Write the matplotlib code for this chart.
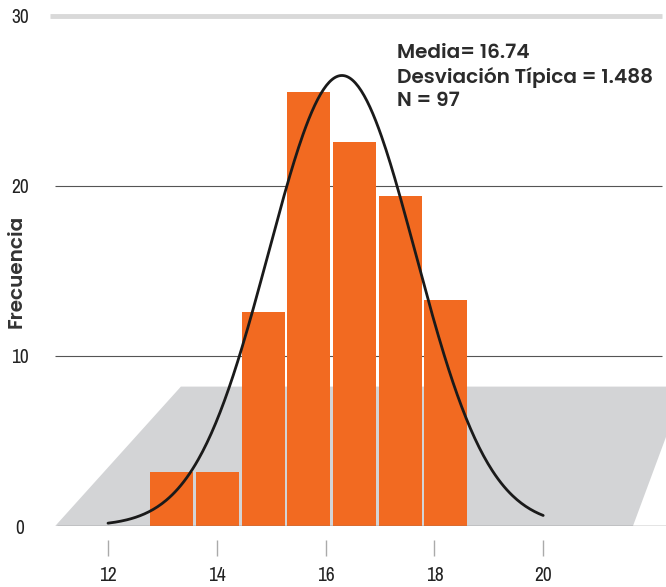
import numpy as np
import matplotlib
matplotlib.use("Agg")
from matplotlib import pyplot as plt
from matplotlib.patches import Polygon

# histogram of the sample
bin_centers = [13.17, 14.01, 14.85, 15.69, 16.53, 17.37, 18.21]
counts = [3.2, 3.2, 12.6, 25.5, 22.6, 19.4, 13.3]
bar_width = 0.79

# fitted normal curve as drawn over the bars
curve_mu = 16.3
curve_sigma = 1.35
curve_peak = 26.5
curve_range = (12.0, 20.0)

x_ticks = [12, 14, 16, 18, 20]
y_ticks = [0, 10, 20, 30]

stats_lines = ["Media= 16.74", "Desviación Típica = 1.488", "N = 97"]

orange = "#f26a21"
floor_grey = "#d3d4d6"
narrow = ["Archivo Narrow", "DejaVu Sans"]
heading = ["Poppins", "DejaVu Sans"]

fig = plt.figure(figsize=(6.66, 5.87), dpi=100)
ax = fig.add_axes([45 / 666, 61 / 587, 621 / 666, 518 / 587])
ax.set_xlim(10.842, 22.257)
ax.set_ylim(0, 30.47)

# perspective floor under the bars
floor = Polygon([(11.03, 0), (13.34, 8.2), (22.6, 8.2), (21.65, 0)],
                closed=True, facecolor=floor_grey, edgecolor="none", zorder=0)
ax.add_patch(floor)

# grid lines
ax.hlines([10, 20], 11.03, 22.18, color="#555555", lw=0.8, zorder=1)
ax.hlines(30, 10.93, 22.18, color="#d9d9d9", lw=3.5, zorder=1)
ax.hlines(0, 11.06, 22.26, color="#777777", lw=1.0, zorder=4)

ax.bar(bin_centers, counts, width=bar_width, color=orange, edgecolor="none", zorder=2)

xs = np.linspace(curve_range[0], curve_range[1], 300)
ys = curve_peak * np.exp(-0.5 * ((xs - curve_mu) / curve_sigma) ** 2)
ax.plot(xs, ys, color="#1a1a1a", lw=2.0, zorder=5, solid_capstyle="round")

for sp in ["top", "right", "left"]:
    ax.spines[sp].set_visible(False)
ax.spines["bottom"].set_visible(False)
ax.spines["bottom"].set_position(("outward", 10.08))

ax.set_xticks(x_ticks)
ax.set_xticklabels([str(t) for t in x_ticks], family=narrow, fontsize=14, color="#222222")
ax.tick_params(axis="x", length=11.5, width=1, color="#aaaaaa", pad=7)

ax.set_yticks(y_ticks)
ax.set_yticklabels([str(t) for t in y_ticks], family=narrow, fontsize=14, color="#222222",
                   ha="center")
ax.tick_params(axis="y", length=0, pad=18)

fig.text(17 / 666, 1 - 271 / 587, "Frecuencia", rotation=90, ha="center", va="center",
         fontsize=14.5, fontweight=600, color="#333333", family=heading)

for i, line in enumerate(stats_lines):
    fig.text(397 / 666, 1 - (53 + 24 * i) / 587, line, ha="left", va="center",
             fontsize=14.5, fontweight=600, color="#2b2b2b", family=heading)

fig.savefig("out.png", dpi=100)
